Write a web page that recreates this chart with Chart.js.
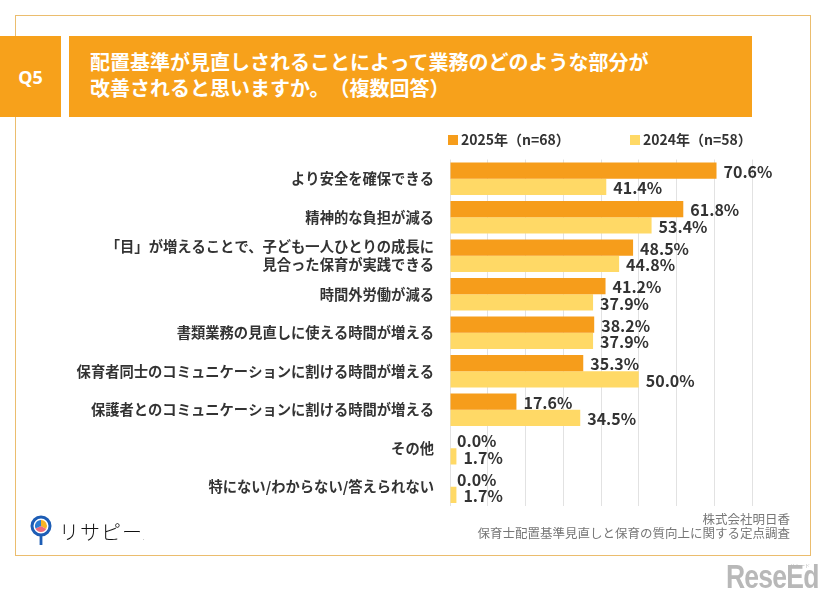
<!DOCTYPE html>
<html lang="ja">
<head>
<meta charset="utf-8">
<script src="https://cdn.jsdelivr.net/npm/chart.js@4/dist/chart.umd.min.js"></script>
<style>
  html,body{margin:0;padding:0;background:#fff;}
  body{width:826px;height:593px;position:relative;overflow:hidden;font-family:"Noto Sans CJK JP","Noto Sans",sans-serif;text-spacing-trim:space-all;}
  .card{position:absolute;left:15px;top:15px;width:796px;height:541px;border:1.5px solid #EBBD6E;box-sizing:border-box;}
  .q{position:absolute;left:0;top:36px;width:61px;height:81px;background:#F7A11B;color:#fff;font-weight:bold;font-size:18px;display:flex;align-items:center;justify-content:center;font-family:"Noto Sans","Noto Sans CJK JP",sans-serif;}
  .title{position:absolute;left:69px;top:36px;width:683px;height:81px;background:#F7A11B;color:#fff;font-weight:bold;font-size:20px;line-height:26px;box-sizing:border-box;padding:13px 0 0 21px;text-spacing-trim:space-all;}
  canvas{position:absolute;left:0;top:0;}
  .src{position:absolute;right:36px;top:512px;text-align:right;color:#777;font-size:12.5px;line-height:14px;}
  .logo{position:absolute;left:30px;top:515px;height:34px;}
  .logotxt{position:absolute;left:59px;top:517px;font-size:20px;color:#111;font-weight:300;letter-spacing:1px;}
  .wm{position:absolute;left:726px;top:557px;color:#b8b8b8;font-family:"Liberation Sans","DejaVu Sans",sans-serif;font-weight:bold;font-size:34px;letter-spacing:-1px;transform:scaleX(0.78);transform-origin:0 0;white-space:nowrap;}
  .wmsmall{position:absolute;left:790px;top:561px;color:#b8b8b8;font-size:5px;}
</style>
</head>
<body>
<div class="card"></div>
<div class="q">Q5</div>
<div class="title">配置基準が見直しされることによって業務のどのような部分が<br>改善されると思いますか。（複数回答）</div>
<canvas id="c" width="826" height="593"></canvas>
<div class="src">株式会社明日香<br>保育士配置基準見直しと保育の質向上に関する定点調査</div>
<svg class="logo" width="24" height="34" viewBox="0 0 24 34">
  <circle cx="11" cy="11" r="9" fill="#fff" stroke="#1D5DB5" stroke-width="3"/>
  <path d="M11 11 L11 5 A6 6 0 0 1 16.2 14 Z" fill="#F5B324"/>
  <path d="M11 11 L16.2 14 A6 6 0 0 1 5.5 13.5 Z" fill="#EE6A7B"/>
  <path d="M11 11 L5.5 13.5 A6 6 0 0 1 11 5 Z" fill="#2C7BD0"/>
  <rect x="9.6" y="20" width="2.8" height="10" fill="#1D5DB5"/>
</svg>
<div class="logotxt">リサピー<span style="font-size:6px;color:#888">.</span></div>
<div class="wmsmall">リシード</div>
<div class="wm">ReseEd</div>
<script>
const categories = [
  "より安全を確保できる",
  "精神的な負担が減る",
  ["「目」が増えることで、子ども一人ひとりの成長に", "見合った保育が実践できる"],
  "時間外労働が減る",
  "書類業務の見直しに使える時間が増える",
  "保育者同士のコミュニケーションに割ける時間が増える",
  "保護者とのコミュニケーションに割ける時間が増える",
  "その他",
  "特にない/わからない/答えられない"
];
const seriesNames = ["2025年（n=68）", "2024年（n=58）"];
const values2025 = [70.6, 61.8, 48.5, 41.2, 38.2, 35.3, 17.6, 0.0, 0.0];
const values2024 = [41.4, 53.4, 44.8, 37.9, 37.9, 50.0, 34.5, 1.7, 1.7];
const xTicks = [0, 10, 20, 30, 40, 50, 60, 70, 80];

const FONT = '"Noto Sans CJK JP","Noto Sans",sans-serif';

const valueLabels = {
  id: 'valueLabels',
  afterDatasetsDraw(chart) {
    const ctx = chart.ctx;
    ctx.save();
    ctx.font = 'bold 16px ' + FONT;
    ctx.fillStyle = '#333';
    ctx.textAlign = 'left';
    ctx.textBaseline = 'middle';
    chart.data.datasets.forEach((ds, i) => {
      const meta = chart.getDatasetMeta(i);
      meta.data.forEach((bar, j) => {
        ctx.fillText(ds.data[j].toFixed(1) + '%', bar.x + 7, bar.y + 1);
      });
    });
    ctx.restore();
  }
};

const customLegend = {
  id: 'customLegend',
  afterDraw(chart) {
    const ctx = chart.ctx;
    const pos = [448, 630];
    ctx.save();
    ctx.font = 'bold 14px ' + FONT;
    ctx.textBaseline = 'middle';
    ctx.textAlign = 'left';
    chart.data.datasets.forEach((ds, i) => {
      ctx.fillStyle = ds.backgroundColor;
      ctx.fillRect(pos[i], 135, 10, 10);
      ctx.fillStyle = '#333';
      ctx.fillText(ds.label, pos[i] + 13, 140);
    });
    ctx.restore();
  }
};

new Chart(document.getElementById('c'), {
  type: 'bar',
  data: {
    labels: categories,
    datasets: [
      { label: seriesNames[0], data: values2025, backgroundColor: '#F69D1B', categoryPercentage: 0.85, barPercentage: 1.0 },
      { label: seriesNames[1], data: values2024, backgroundColor: '#FFD966', categoryPercentage: 0.85, barPercentage: 1.0 }
    ]
  },
  options: {
    indexAxis: 'y',
    responsive: false,
    animation: false,
    layout: { padding: { top: 159.5, bottom: 87, right: 74, left: 0 } },
    plugins: { legend: { display: false }, tooltip: { enabled: false } },
    scales: {
      x: {
        min: 0, max: 80,
        afterBuildTicks(scale) { scale.ticks = xTicks.map(v => ({ value: v })); },
        ticks: { display: false },
        grid: { color: '#E2E2E2', lineWidth: 1, drawTicks: false },
        border: { display: false }
      },
      y: {
        afterFit(scale) { scale.width = 450; },
        ticks: { autoSkip: false, color: '#333', padding: 16, font: { family: FONT, size: 14.3, weight: 'bold', lineHeight: 1.3 } },
        grid: { display: false, drawTicks: false },
        border: { display: false }
      }
    }
  },
  plugins: [valueLabels, customLegend]
});
</script>
</body>
</html>
